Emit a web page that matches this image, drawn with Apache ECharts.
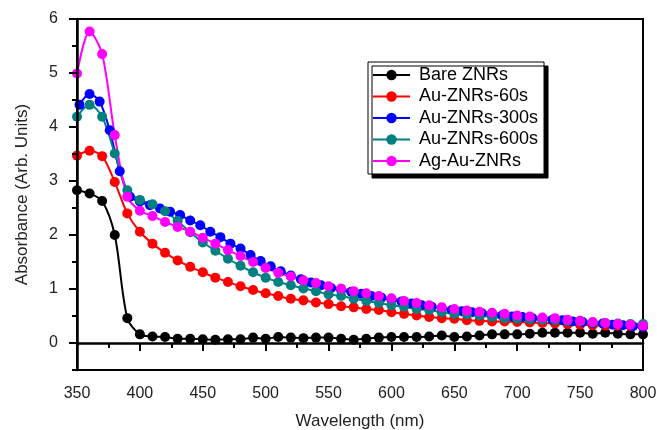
<!DOCTYPE html>
<html>
<head>
<meta charset="utf-8">
<script src="https://cdn.jsdelivr.net/npm/echarts@6/dist/echarts.min.js"></script>
<style>
  html, body { margin: 0; padding: 0; background: #fff; }
  #chart { width: 657px; height: 430px; }
</style>
</head>
<body>
<div id="chart"></div>
<script>
// Wavelength grid (nm) shared by most spectra
var wavelengths = [350, 360, 370, 380, 390, 400, 410, 420, 430, 440, 450, 460, 470, 480, 490,
  500, 510, 520, 530, 540, 550, 560, 570, 580, 590, 600, 610, 620, 630, 640, 650, 660, 670,
  680, 690, 700, 710, 720, 730, 740, 750, 760, 770, 780, 790, 800];

// Au-ZNRs-300s was sampled on its own grid
var wavelengths300 = [352, 360, 368, 376, 384, 392, 400, 408, 416, 424, 432, 440, 448, 456,
  464, 472, 480, 488, 496, 504, 512, 520, 528, 536, 544, 552, 560, 568, 576, 584, 592, 600,
  608, 616, 624, 632, 640, 648, 656, 664, 672, 680, 688, 696, 704, 712, 720, 728, 736, 744,
  752, 760, 768, 776, 784, 792, 800];

var bareZNRs = [2.83, 2.77, 2.63, 2.00, 0.46, 0.16, 0.12, 0.11, 0.08, 0.08, 0.07, 0.06, 0.07,
  0.07, 0.10, 0.08, 0.11, 0.10, 0.09, 0.10, 0.10, 0.08, 0.06, 0.08, 0.10, 0.11, 0.11, 0.11,
  0.12, 0.14, 0.11, 0.12, 0.14, 0.16, 0.16, 0.16, 0.17, 0.19, 0.19, 0.19, 0.19, 0.17, 0.19,
  0.17, 0.16, 0.16];

var auZNRs60 = [3.47, 3.56, 3.46, 2.98, 2.40, 2.06, 1.84, 1.67, 1.53, 1.41, 1.31, 1.21, 1.13,
  1.05, 0.98, 0.92, 0.87, 0.82, 0.79, 0.75, 0.72, 0.68, 0.66, 0.63, 0.61, 0.57, 0.54, 0.51,
  0.48, 0.46, 0.45, 0.42, 0.41, 0.40, 0.40, 0.39, 0.38, 0.37, 0.36, 0.35, 0.34, 0.33, 0.32,
  0.32, 0.31, 0.30];

var auZNRs300 = [4.41, 4.61, 4.47, 3.94, 3.18, 2.71, 2.62, 2.55, 2.49, 2.43, 2.37, 2.27, 2.18,
  2.06, 1.96, 1.84, 1.75, 1.63, 1.52, 1.42, 1.33, 1.25, 1.18, 1.12, 1.07, 1.02, 0.98, 0.95,
  0.91, 0.87, 0.84, 0.80, 0.77, 0.73, 0.70, 0.67, 0.64, 0.61, 0.59, 0.57, 0.55, 0.53, 0.51,
  0.49, 0.48, 0.46, 0.45, 0.43, 0.42, 0.40, 0.39, 0.37, 0.36, 0.34, 0.33, 0.31, 0.30];

var auZNRs600 = [4.19, 4.41, 4.19, 3.51, 2.83, 2.65, 2.57, 2.44, 2.26, 2.05, 1.86, 1.71, 1.56,
  1.43, 1.31, 1.21, 1.13, 1.07, 1.01, 0.96, 0.90, 0.87, 0.82, 0.78, 0.74, 0.70, 0.67, 0.63,
  0.61, 0.57, 0.54, 0.53, 0.51, 0.48, 0.46, 0.45, 0.44, 0.43, 0.42, 0.41, 0.40, 0.38, 0.37,
  0.36, 0.35, 0.35];

var agAuZNRs = [4.99, 5.77, 5.35, 3.85, 2.71, 2.45, 2.35, 2.24, 2.15, 2.06, 1.95, 1.84, 1.72,
  1.61, 1.50, 1.39, 1.30, 1.23, 1.16, 1.11, 1.05, 1.01, 0.96, 0.92, 0.87, 0.83, 0.78, 0.74,
  0.70, 0.66, 0.63, 0.60, 0.58, 0.56, 0.54, 0.51, 0.49, 0.47, 0.46, 0.43, 0.41, 0.39, 0.37,
  0.35, 0.34, 0.32];

var seriesNames = ['Bare ZNRs', 'Au-ZNRs-60s', 'Au-ZNRs-300s', 'Au-ZNRs-600s', 'Ag-Au-ZNRs'];
var seriesColors = ['#000000', '#ff0000', '#0000ff', '#008080', '#ff00ff'];
var yMajorTicks = [0, 1, 2, 3, 4, 5, 6];

var FONT = 'Arial, "Liberation Sans", sans-serif';

function pairs(xs, ys) {
  return xs.map(function (x, i) { return [x, ys[i]]; });
}

var spectra = [
  pairs(wavelengths, bareZNRs),
  pairs(wavelengths, auZNRs60),
  pairs(wavelengths300, auZNRs300),
  pairs(wavelengths, auZNRs600),
  pairs(wavelengths, agAuZNRs)
];

var chart = echarts.init(document.getElementById('chart'), null, { renderer: 'canvas' });

chart.setOption({
  backgroundColor: '#ffffff',
  animation: false,
  grid: {
    left: 77, right: 14, top: 19, bottom: 60,
    outerBoundsMode: 'none', containLabel: false,
    show: true, borderColor: '#000', borderWidth: 2, backgroundColor: 'transparent'
  },
  legend: {
    orient: 'vertical',
    left: 368, top: 62,
    padding: [4, 6, 4, 4],
    itemWidth: 37, itemHeight: 13, itemGap: 3.5,
    backgroundColor: '#fff',
    borderColor: '#000', borderWidth: 1,
    shadowColor: '#000', shadowBlur: 0, shadowOffsetX: 4, shadowOffsetY: 4,
    textStyle: { fontFamily: FONT, fontSize: 18, color: '#000', lineHeight: 18, padding: [0, 0, 0, 4] },
    data: seriesNames
  },
  xAxis: {
    type: 'value', min: 350, max: 800, interval: 50, z: 10,
    name: 'Wavelength (nm)', nameLocation: 'middle', nameGap: 43,
    nameTextStyle: { fontFamily: FONT, fontSize: 17, color: '#222' },
    axisLine: { show: true, lineStyle: { color: '#000', width: 2.5 } },
    axisTick: { show: true, length: 8, lineStyle: { color: '#000', width: 2 } },
    minorTick: { show: true, splitNumber: 2, length: 5, lineStyle: { color: '#000', width: 2 } },
    axisLabel: { fontFamily: FONT, fontSize: 16, color: '#222', margin: 16 },
    splitLine: { show: false }
  },
  yAxis: [{
    type: 'value', min: -0.5, max: 6, interval: 0.5, z: 10,
    name: 'Absorbance (Arb. Units)', nameLocation: 'middle', nameGap: 46,
    nameTextStyle: { fontFamily: FONT, fontSize: 17, color: '#222' },
    axisLine: { show: true, lineStyle: { color: '#000', width: 2.5 } },
    axisTick: { show: true, length: 8, customValues: yMajorTicks, lineStyle: { color: '#000', width: 2 } },
    axisLabel: { fontFamily: FONT, fontSize: 16, color: '#222', margin: 19, customValues: yMajorTicks },
    splitLine: { show: false }
  }, {
    // half-unit minor ticks on the same scale
    type: 'value', min: -0.5, max: 6, interval: 0.5, position: 'left', z: 10,
    axisLine: { show: false },
    axisTick: { show: true, length: 5, lineStyle: { color: '#000', width: 2 } },
    axisLabel: { show: false },
    splitLine: { show: false }
  }],
  series: seriesNames.map(function (name, i) {
    return {
      name: name,
      type: 'line',
      data: spectra[i],
      smooth: 0.3,
      symbol: 'circle',
      symbolSize: 10,
      color: seriesColors[i],
      lineStyle: { width: 2, color: seriesColors[i] },
      itemStyle: { color: seriesColors[i] },
      clip: false
    };
  })
});
</script>
</body>
</html>
